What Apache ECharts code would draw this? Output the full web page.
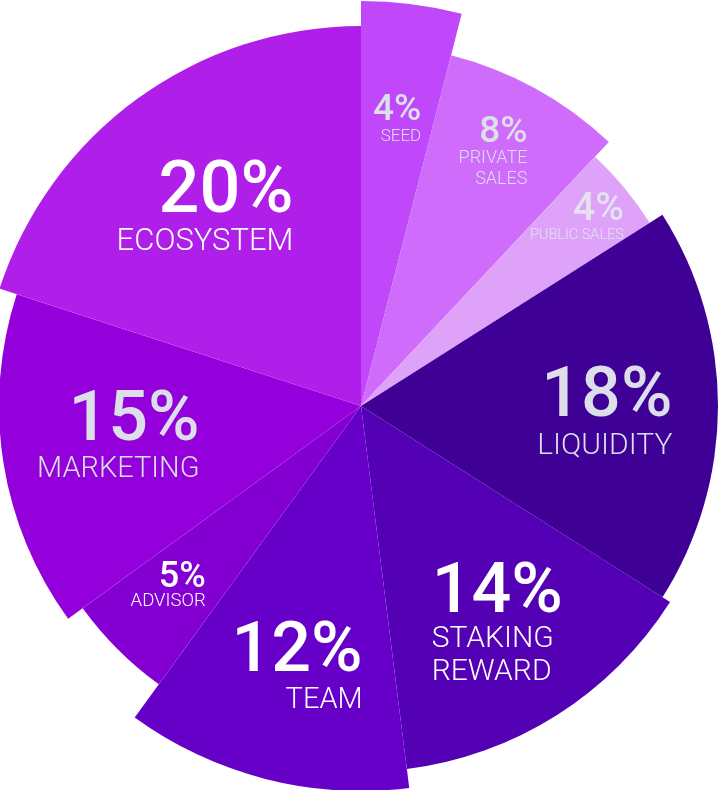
<!DOCTYPE html>
<html>
<head>
<meta charset="utf-8">
<script src="https://cdn.jsdelivr.net/npm/echarts@6/dist/echarts.min.js"></script>
<style>
html,body{margin:0;padding:0;background:#fff;}
#chart{width:718px;height:790px;}
</style>
</head>
<body>
<div id="chart"></div>
<script>
// ---- data ----
const categories = ['SEED','PRIVATE SALES','PUBLIC SALES','LIQUIDITY','STAKING REWARD','TEAM','ADVISOR','MARKETING','ECOSYSTEM'];
const shares = [4, 8, 4, 18, 14, 12, 5, 15, 20];
const displayNames = ['SEED','PRIVATE\nSALES','PUBLIC SALES','LIQUIDITY','STAKING\nREWARD','TEAM','ADVISOR','MARKETING','ECOSYSTEM'];

// ---- styles ----
const sliceColors = ['#c048fa','#cf6cfc','#dfa2f9','#3f0095','#5401b6','#6600c9','#8400d2','#9400db','#b01fe9'];
const outerRadius = [405, 362, 342, 357, 366, 385, 344, 362, 380];
const labelRadius = [285, 281, 282, 241, 257, 269, 262, 242, 247];
const labelAngleShift = [0, 1.1, 1.15, -2.26, -0.8, 0.8, -1.7, -1.2, 2.6]; // degrees, positive = counter-clockwise
const pctSize  = [37, 37, 39, 70, 70, 70, 36, 70, 72];
const pctLine  = [32, 28.5, 31, 61, 58, 61, 28, 60, 63];
const nameSize = [17, 18, 14.5, 30, 30, 29, 18.5, 29, 31];
const nameLine = [20, 21.5, 19, 34, 33, 34, 20, 33, 34];
const textColors = ['#dcdfea','#dcdfea','#e2e3ee','#dcdfea','#ffffff','#ffffff','#ffffff','#dcdfea','#ffffff'];
const textAligns = ['right','right','right','right','left','right','right','right','right'];
const CENTER = [361, 406];

const chart = echarts.init(document.getElementById('chart'), null, {renderer:'canvas'});
const series = [];

categories.forEach((cat, i) => {
  series.push({
    type: 'pie',
    center: CENTER,
    radius: [0, outerRadius[i]],
    startAngle: 90,
    clockwise: true,
    silent: true,
    animation: false,
    z: 1,
    label: {show: false},
    labelLine: {show: false},
    itemStyle: {borderWidth: 0},
    emphasis: {disabled: true},
    data: categories.map((c, j) => ({
      name: c, value: shares[j],
      itemStyle: {color: j === i ? sliceColors[i] : 'rgba(0,0,0,0)', borderWidth: 0}
    }))
  });
});

categories.forEach((cat, i) => {
  series.push({
    type: 'pie',
    center: CENTER,
    radius: [0, labelRadius[i] * 2],
    startAngle: 90 + labelAngleShift[i],
    clockwise: true,
    silent: true,
    animation: false,
    z: 5,
    labelLine: {show: false},
    itemStyle: {color: 'rgba(0,0,0,0)', borderWidth: 0},
    emphasis: {disabled: true},
    data: categories.map((c, j) => ({
      name: c, value: shares[j],
      itemStyle: {color: 'rgba(0,0,0,0)', borderWidth: 0},
      label: j === i ? {
        show: true,
        position: 'inside',
        rotate: 0,
        formatter: '{p|' + shares[j] + '%}\n' + displayNames[j].split('\n').map(s => '{n|' + s + '}').join('\n'),
        rich: {
          p: {fontFamily: 'Roboto', fontWeight: 500, fontSize: pctSize[j], lineHeight: pctLine[j], color: textColors[j], align: textAligns[j]},
          n: {fontFamily: 'Roboto', fontWeight: 300, fontSize: nameSize[j], lineHeight: nameLine[j], color: textColors[j], align: textAligns[j]}
        }
      } : {show: false}
    }))
  });
});

chart.setOption({
  backgroundColor: '#ffffff',
  animation: false,
  series: series
});
</script>
</body>
</html>
